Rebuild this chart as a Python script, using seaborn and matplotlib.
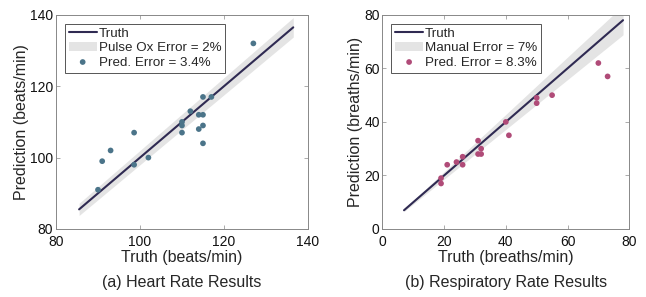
import numpy as np
import pandas as pd
import matplotlib
matplotlib.use("Agg")
import matplotlib.pyplot as plt
import seaborn as sns

# ── data ──────────────────────────────────────────────────────────────────────
hr_truth = [127, 115, 117, 112, 114, 115, 110, 110, 114, 115, 110, 115,
            98.6, 93, 91, 98.6, 102, 90]
hr_pred = [132, 117, 117, 113, 112, 112, 110, 109, 108, 109, 107, 104,
           107, 102, 99, 98, 100, 91]
hr_line = [85.5, 136.5]
hr_err_band = 0.02

rr_truth = [70, 73, 55, 50, 50, 40, 41, 31, 32, 31, 32, 26, 24, 26, 21, 19, 19]
rr_pred = [62, 57, 50, 49, 47, 40, 35, 33, 30, 28, 28, 27, 25, 24, 24, 19, 17]
rr_line = [7, 78]
rr_err_band = 0.07

LINE_C = "#2f2a52"
BAND_C = "#e4e4e4"
HR_C = "#4b7489"
RR_C = "#b04b78"

sns.set_style("ticks")
plt.rcParams["font.family"] = ["Liberation Sans", "DejaVu Sans"]

fig = plt.figure(figsize=(6.46, 2.97), dpi=100)
ax1 = fig.add_axes([0.0867, 0.229, 0.390, 0.721])
ax2 = fig.add_axes([0.592, 0.229, 0.382, 0.721])


def panel(ax, truth, pred, line, band, color, band_lbl, pred_lbl,
          lim, ticks, unit, caption):
    lx = np.array(line)
    ax.fill_between(lx, lx * (1 - band), lx * (1 + band), color=BAND_C,
                    lw=0, label=band_lbl, zorder=1)
    sns.lineplot(x=lx, y=lx, color=LINE_C, lw=1.5, ax=ax, label="Truth",
                 zorder=3)
    df = pd.DataFrame({"truth": truth, "pred": pred})
    sns.scatterplot(data=df, x="truth", y="pred", color=color, s=17,
                    edgecolor="none", ax=ax, label=pred_lbl, zorder=4)
    ax.set_xlim(lim)
    ax.set_ylim(lim)
    ax.set_xticks(ticks)
    ax.set_yticks(ticks)
    ax.tick_params(direction="in", length=3, width=0.5, labelsize=10,
                   top=True, right=True, colors="#888888",
                   labelcolor="#111111")
    ax.tick_params(axis="x", pad=4)
    ax.tick_params(axis="y", pad=2)
    for sp in ax.spines.values():
        sp.set_visible(True)
        sp.set_linewidth(0.7)
        sp.set_color("#888888")
    ax.set_xlabel(f"Truth ({unit})", fontsize=11.5, labelpad=1)
    ax.set_ylabel(f"Prediction ({unit})", fontsize=11.5, labelpad=1)
    h, l = ax.get_legend_handles_labels()
    order = [l.index("Truth"), l.index(band_lbl), l.index(pred_lbl)]
    leg = ax.legend([h[i] for i in order], [l[i] for i in order],
                    loc="upper left", fontsize=9.6, frameon=True,
                    fancybox=False, edgecolor="#555555", framealpha=1,
                    borderpad=0.3, labelspacing=0.15, handlelength=2.1,
                    handletextpad=0.15, borderaxespad=0.65)
    leg.get_frame().set_linewidth(0.7)
    pos = ax.get_position()
    fig.text(pos.x0 + pos.width / 2, 0.05, caption, ha="center",
             va="center", fontsize=11.5)


panel(ax1, hr_truth, hr_pred, hr_line, hr_err_band, HR_C,
      "Pulse Ox Error = 2%", "Pred. Error = 3.4%", (80, 140),
      [80, 100, 120, 140], "beats/min", "(a) Heart Rate Results")
panel(ax2, rr_truth, rr_pred, rr_line, rr_err_band, RR_C,
      "Manual Error = 7%", "Pred. Error = 8.3%", (0, 80),
      [0, 20, 40, 60, 80], "breaths/min", "(b) Respiratory Rate Results")

fig.savefig("out.png", dpi=100)
